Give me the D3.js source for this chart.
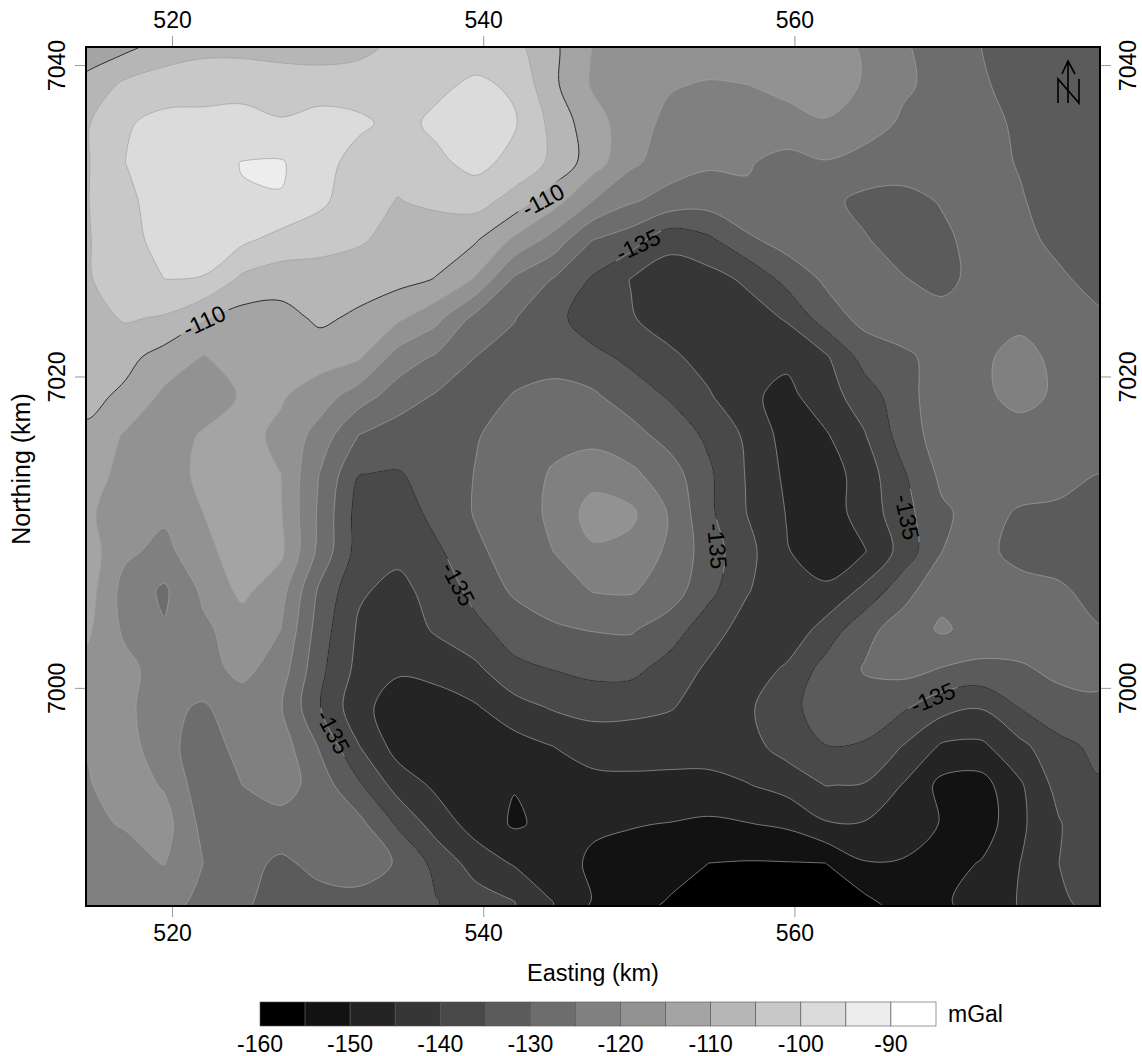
<!DOCTYPE html>
<html>
<head>
<meta charset="utf-8">
<script src="https://cdn.jsdelivr.net/npm/d3@7"></script>
<style>
  html, body { margin: 0; padding: 0; background: #fff; }
  text { font-family: "Liberation Sans", Arial, sans-serif; fill: #000; }
</style>
</head>
<body>
<svg id="chart" width="1142" height="1056"></svg>
<script>
// gravity grid, mGal, one row per northing (north to south), 2.5 km spacing
const gridEastStart = 514.5;
const gridNorthStart = 7041.25;
const gridStep = 2.5;
const gravityRows = [
  [-113,-111.5,-108,-106.5,-106.5,-107,-107.5,-106.5,-104,-103,-102.5,-103.5,-109,-115,-116,-116.5,-116.5,-116.5,-116.5,-116.5,-121,-124.5,-127,-130,-131.5,-132.5,-133],
  [-108.5,-104,-102.5,-102,-102,-102.5,-102.5,-102.5,-102.5,-101,-99.2,-100.7,-109,-115.5,-118,-119.5,-120.5,-120,-118.5,-117,-120.5,-124,-127,-129.5,-131.5,-132.5,-133],
  [-105.5,-100.5,-98.5,-98.5,-98,-99.5,-98,-99,-101.5,-99,-97.5,-99.5,-106.5,-113,-117.5,-121.5,-122.5,-123,-122,-120.5,-122,-126,-127.5,-128.5,-130.8,-132.5,-133],
  [-105.5,-100,-97,-96.5,-94.9,-94.6,-98,-102,-103.5,-101,-98.5,-101.5,-106,-112.5,-119,-122.5,-124.2,-124.6,-126.5,-125.3,-127.5,-128,-127.8,-128.5,-130.3,-132,-133],
  [-105.3,-101,-98,-97,-95.2,-95.2,-99,-103,-105.2,-104,-103,-107,-113,-120,-124.5,-127,-128,-125.8,-128,-129,-131,-131.3,-129.7,-128.5,-129.6,-132,-133],
  [-105.5,-101.5,-98.5,-98,-99,-102,-103,-104.5,-106.5,-108,-109.5,-116,-122,-130,-132.8,-138.5,-136,-131,-128,-128.5,-129.7,-131.5,-130.8,-128.5,-128.3,-131.5,-133],
  [-105.5,-102.5,-100,-100.2,-106,-107.5,-107.5,-107.5,-108.5,-110.2,-115.5,-125.8,-130.2,-135.5,-140.2,-142.5,-142,-139,-133.4,-129.2,-128,-129.8,-131.2,-128.5,-126.5,-129,-132],
  [-107,-104.5,-105.5,-109.5,-112,-112,-109,-111,-114,-118.6,-126.5,-129.8,-133.2,-138,-139.6,-142.5,-143,-142.5,-139.5,-132.5,-128.5,-127.5,-128.5,-127,-126.2,-127.5,-129],
  [-107.5,-108.5,-112,-115.2,-113,-113,-113,-114.3,-122,-125.7,-130,-131.5,-132.5,-133.5,-136.2,-139,-142,-144,-143.8,-140.7,-133,-130.8,-128.5,-125.8,-123.5,-126.2,-128],
  [-108.5,-111,-116,-118,-114.5,-114.5,-117.5,-122.5,-127.5,-130.5,-131.5,-129.8,-128,-129.2,-132.5,-135.5,-139.5,-144,-146.5,-142,-137.7,-131.7,-127.5,-126,-123.5,-125.8,-127],
  [-111,-115.5,-117.5,-114.5,-113.5,-116,-122,-130,-132.3,-132.8,-130.4,-127.8,-126.5,-126.7,-128.2,-132,-136,-141,-147,-145.5,-140.3,-132.7,-127.5,-126.2,-127,-126.5,-127],
  [-112,-117,-118,-113.5,-112.5,-115,-125.2,-134.9,-135.3,-133.5,-129.8,-127.5,-124.5,-122,-124,-127.7,-134.2,-140.5,-146,-147.5,-142.7,-135.5,-128.8,-127,-127,-127.8,-130],
  [-113.5,-119.5,-119,-115,-112.5,-114.7,-126,-137,-138.5,-133,-129.7,-127.5,-124,-118,-119,-125.5,-134,-140.2,-145.2,-147.5,-143,-136.8,-130.8,-128,-130.6,-131.2,-131.5],
  [-112.5,-119,-121.5,-116.5,-112.5,-114,-126.5,-137,-138.7,-136,-130.8,-128.3,-125,-120.7,-121.5,-126,-132.5,-138.5,-144.7,-147.5,-145.3,-138,-130,-128.5,-131.7,-132,-132],
  [-112.5,-122,-125.8,-119,-113.8,-118,-131,-139.3,-141.5,-138,-133.5,-129.2,-128,-124.8,-124.5,-127.5,-133.5,-139.7,-143.5,-144.2,-138.8,-131.8,-126.5,-127.5,-128,-129.3,-131.5],
  [-114,-121,-124.6,-121,-117.5,-120,-132.5,-140.7,-143,-139.3,-136.2,-133,-130.5,-129.8,-129.5,-132.5,-138,-142,-143.8,-138,-131.5,-127.7,-124.3,-127,-127.5,-127.5,-129.7],
  [-116.5,-118.5,-122.5,-122,-118.5,-122.5,-133.7,-141.5,-144.3,-143.5,-141,-136,-134.8,-133.5,-133.5,-137,-140.8,-143,-139.3,-133.2,-129.7,-128.3,-130.2,-131,-130.5,-129,-129.3],
  [-118,-118.5,-124,-125.5,-122.7,-124.7,-134.8,-143.5,-147.3,-147,-145.5,-142,-139.5,-138.3,-138.5,-139.6,-142.5,-140.8,-136.5,-132.7,-131.5,-134.3,-138.2,-139.7,-134.8,-131.5,-130.5],
  [-119.7,-118,-123,-128,-123,-122.5,-130.5,-139.8,-147,-149.5,-149.5,-147,-145,-143,-143.2,-143.5,-143.5,-141.8,-138,-135.1,-135.6,-140.2,-145.7,-146,-141.3,-136.5,-133.8],
  [-120.5,-117.5,-120.5,-128,-125,-122.5,-127.5,-134.2,-142,-146,-148,-149.8,-147.5,-146.5,-146,-146,-146,-145.2,-143.2,-139.9,-140.3,-145.3,-151.5,-152,-145.7,-138.2,-135.5],
  [-120.8,-119.7,-118,-126.5,-127,-127.3,-127.3,-128.5,-135.6,-142.3,-147,-150.6,-148.7,-149,-149.7,-150.2,-151,-150.2,-149.2,-145.5,-145.4,-147.3,-150.3,-153,-146,-140.4,-135.5],
  [-120.5,-121.5,-119.8,-125,-128.5,-130.8,-128.7,-127,-130.5,-136.5,-142.2,-145.5,-147,-151,-152,-152.5,-155,-155.3,-155.2,-155,-150.3,-150.4,-152,-149.7,-145,-140,-136],
  [-121,-122.5,-123.5,-126,-129.5,-131.2,-131.5,-132,-133.5,-134.8,-137.5,-139.9,-145,-150.2,-152.5,-155.5,-158,-158,-158,-158,-156.3,-152.5,-150.7,-148,-144.7,-141,-138]
];

const contourLevels = [-155,-150,-145,-140,-135,-130,-125,-120,-115,-110,-105,-100,-95,-90];
const labelledLevels = [-135,-110];
const bandEdges = [-160,-155,-150,-145,-140,-135,-130,-125,-120,-115,-110,-105,-100,-95,-90,-85];
const bandGrays = ["#000000","#121212","#242424","#363636","#494949","#5b5b5b","#6d6d6d","#808080","#929292","#a4a4a4","#b6b6b6","#c8c8c8","#dbdbdb","#ededed","#ffffff"];
const legendTicks = [-160,-150,-140,-130,-120,-110,-100,-90];
const eastingTicks = [520,540,560];
const northingTicks = [7000,7020,7040];

// value, easting, northing, text angle
const contourLabels = [
  [-110,522.06,7023.56,-25],
  [-110,543.84,7031.33,-28],
  [-135,549.95,7028.44,-25],
  [-135,538.38,7006.67,62],
  [-135,555.03,7009.10,85],
  [-135,567.24,7010.97,78],
  [-135,530.35,6997.16,62],
  [-135,568.90,6999.35,-22]
];

const plot = { left: 86, right: 1100, top: 47, bottom: 906 };
const svg = d3.select("#chart");

const x = d3.scaleLinear().domain([514.47, 579.64]).range([plot.left, plot.right]);
const y = d3.scaleLinear().domain([7041.16, 6985.99]).range([plot.top, plot.bottom]);

function drawContours() {
  const nRows = gravityRows.length;
  const nCols = gravityRows[0].length;
  const values = gravityRows.flat();

  const polygons = d3.contours().size([nCols, nRows]).thresholds(contourLevels)(values);

  // d3.contours puts sample i at i + 0.5 in its own coordinates
  const ringLine = d3.line()
    .x((p) => x(gridEastStart + (p[0] - 0.5) * gridStep))
    .y((p) => y(gridNorthStart - (p[1] - 0.5) * gridStep))
    .curve(d3.curveCatmullRomClosed.alpha(0.5));

  function path(d) {
    return d.coordinates.map((poly) => poly.map((ring) => ringLine(ring.slice(0, -1))).join("")).join("");
  }

  const defs = svg.append("defs");
  defs.append("clipPath").attr("id", "plot-clip").append("rect")
    .attr("x", plot.left).attr("y", plot.top)
    .attr("width", plot.right - plot.left).attr("height", plot.bottom - plot.top);

  // black contours break where their label sits
  const mask = defs.append("mask").attr("id", "label-gaps").attr("maskUnits", "userSpaceOnUse")
    .attr("x", 0).attr("y", 0).attr("width", 1142).attr("height", 1056);
  mask.append("rect").attr("width", 1142).attr("height", 1056).attr("fill", "#fff");
  mask.selectAll("rect.gap").data(contourLabels).enter().append("rect")
    .attr("class", "gap").attr("x", -27).attr("y", -10).attr("width", 54).attr("height", 20).attr("fill", "#000")
    .attr("transform", (d) => `translate(${x(d[1])},${y(d[2])}) rotate(${d[3]})`);

  const g = svg.append("g").attr("clip-path", "url(#plot-clip)");

  g.append("rect").attr("x", plot.left).attr("y", plot.top)
    .attr("width", plot.right - plot.left).attr("height", plot.bottom - plot.top)
    .attr("fill", bandGrays[0]);

  g.selectAll("path.band").data(polygons).enter().append("path")
    .attr("class", "band")
    .attr("d", path)
    .attr("fill", (d) => bandGrays[bandEdges.indexOf(d.value)])
    .attr("stroke", "#a0a0a0")
    .attr("stroke-width", 0.7);

  g.append("g").attr("mask", "url(#label-gaps)")
    .selectAll("path.major").data(polygons.filter((d) => labelledLevels.includes(d.value))).enter().append("path")
    .attr("class", "major")
    .attr("d", path)
    .attr("fill", "none")
    .attr("stroke", "#111")
    .attr("stroke-width", 0.8);

  svg.append("g").selectAll("text").data(contourLabels).enter().append("text")
    .attr("transform", (d) => `translate(${x(d[1])},${y(d[2])}) rotate(${d[3]})`)
    .attr("text-anchor", "middle")
    .attr("dominant-baseline", "central")
    .attr("font-size", 23)
    .text((d) => d[0]);
}

function drawAxes() {
  const axes = [
    { axis: d3.axisTop(x).tickValues(eastingTicks), pos: [0, plot.top] },
    { axis: d3.axisBottom(x).tickValues(eastingTicks), pos: [0, plot.bottom] },
    { axis: d3.axisLeft(y).tickValues(northingTicks), pos: [plot.left, 0], rot: true, lx: -29 },
    { axis: d3.axisRight(y).tickValues(northingTicks), pos: [plot.right, 0], rot: true, lx: 28 }
  ];
  axes.forEach(function (a) {
    const g = svg.append("g")
      .attr("transform", `translate(${a.pos[0]},${a.pos[1]})`)
      .call(a.axis.tickSize(11).tickPadding(8).tickFormat(d3.format("d")));
    g.select(".domain").remove();
    g.selectAll("line").attr("stroke", "#999");
    g.selectAll("text").attr("font-size", 23).attr("font-family", '"Liberation Sans", Arial, sans-serif');
    if (a.rot) {
      g.selectAll("text")
        .attr("x", null).attr("dy", null)
        .attr("text-anchor", "middle").attr("dominant-baseline", "central")
        .attr("transform", `translate(${a.lx},0) rotate(-90)`);
    }
  });

  svg.append("rect").attr("x", plot.left).attr("y", plot.top)
    .attr("width", plot.right - plot.left).attr("height", plot.bottom - plot.top)
    .attr("fill", "none").attr("stroke", "#000").attr("stroke-width", 2);

  svg.append("text").attr("x", 593).attr("y", 973)
    .attr("text-anchor", "middle").attr("dominant-baseline", "central").attr("font-size", 23.5)
    .text("Easting (km)");
  svg.append("text").attr("transform", "translate(21,469) rotate(-90)")
    .attr("text-anchor", "middle").attr("dominant-baseline", "central").attr("font-size", 25)
    .text("Northing (km)");
}

function drawNorthArrow() {
  const g = svg.append("g").attr("fill", "none").attr("stroke", "#000").attr("stroke-width", 1.6);
  g.append("path").attr("d", "M1068,61 V103 M1062,74 L1068,61 L1075,74");
  g.append("path").attr("d", "M1058,103 V79 L1079,103 V79");
}

function drawLegend() {
  const lx = d3.scaleLinear().domain([-160, -85]).range([260, 936]);
  const bands = d3.pairs(bandEdges);

  svg.append("g").selectAll("rect").data(bands).enter().append("rect")
    .attr("x", (d) => lx(d[0]))
    .attr("y", 1002)
    .attr("width", (d) => lx(d[1]) - lx(d[0]))
    .attr("height", 24)
    .attr("fill", (d, i) => bandGrays[i])
    .attr("stroke", "#555")
    .attr("stroke-width", 0.6);

  svg.append("g").selectAll("text").data(legendTicks).enter().append("text")
    .attr("x", (d) => lx(d))
    .attr("y", 1044)
    .attr("text-anchor", "middle")
    .attr("dominant-baseline", "central")
    .attr("font-size", 23)
    .text((d) => d);

  svg.append("text").attr("x", 948).attr("y", 1014)
    .attr("dominant-baseline", "central").attr("font-size", 23).text("mGal");
}

drawContours();
drawAxes();
drawNorthArrow();
drawLegend();
</script>
</body>
</html>
